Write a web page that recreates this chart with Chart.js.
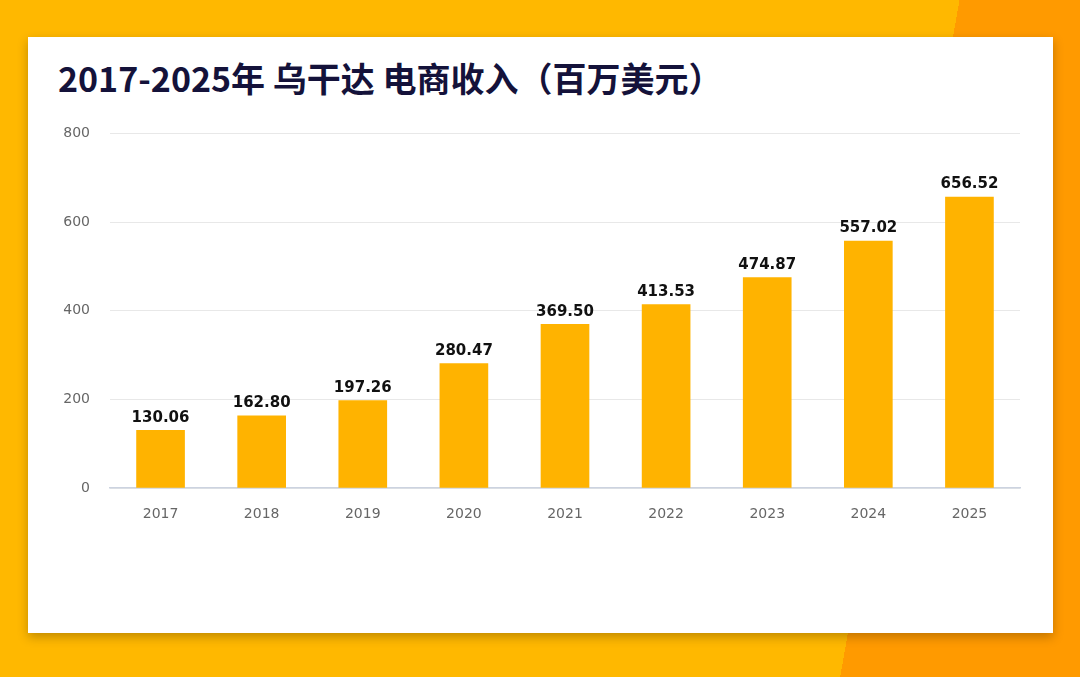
<!DOCTYPE html>
<html>
<head>
<meta charset="utf-8">
<script src="https://cdn.jsdelivr.net/npm/chart.js@4"></script>
<style>
  html, body { margin: 0; padding: 0; }
  body { width: 1080px; height: 677px; position: relative; overflow: hidden;
         background: linear-gradient(100deg, #FFB800 0%, #FFB800 80%, #FF9A00 80%, #FF9A00 100%); }
  #card { position: absolute; left: 28px; top: 37px; width: 1025px; height: 596px; background: #fff;
          box-shadow: 0 4px 10px rgba(0,0,0,0.25); }
  #title { position: absolute; left: 30px; top: 16px; font: bold 34px "Noto Sans CJK SC", "Noto Sans", sans-serif;
           color: #14123a; letter-spacing: 0px; }
  #wrap { position: absolute; left: 0; top: 68px; width: 1025px; height: 413px; }
</style>
</head>
<body>
<div id="card">
  <div id="title">2017-2025年 乌干达 电商收入（百万美元）</div>
  <div id="wrap"><canvas id="chart"></canvas></div>
</div>
<script>
// values
const years = ["2017", "2018", "2019", "2020", "2021", "2022", "2023", "2024", "2025"];
const revenue = [130.06, 162.80, 197.26, 280.47, 369.50, 413.53, 474.87, 557.02, 656.52];
const yTicks = [0, 200, 400, 600, 800];

// labels above bars
const valueLabels = {
  id: "valueLabels",
  afterDatasetsDraw(chart) {
    const ctx = chart.ctx;
    const meta = chart.getDatasetMeta(0);
    ctx.save();
    ctx.font = "bold 15px 'DejaVu Sans', sans-serif";
    ctx.fillStyle = "#111";
    ctx.textAlign = "center";
    ctx.textBaseline = "bottom";
    meta.data.forEach((bar, i) => {
      ctx.fillText(revenue[i].toFixed(2), bar.x, bar.y - 5);
    });
    ctx.restore();
  }
};

new Chart(document.getElementById("chart"), {
  type: "bar",
  data: {
    labels: years,
    datasets: [{ data: revenue, backgroundColor: "#FFB300", barThickness: 48 }]
  },
  options: {
    responsive: true,
    maintainAspectRatio: false,
    animation: false,
    layout: { padding: { top: 15, right: 33, left: 0, bottom: 0 } },
    plugins: { legend: { display: false }, tooltip: { enabled: false } },
    scales: {
      y: {
        min: 0, max: 800,
        afterBuildTicks: (s) => { s.ticks = yTicks.map(v => ({ value: v })); },
        afterFit: (s) => { s.width = 82; },
        ticks: { color: "#666", font: { size: 14, family: "DejaVu Sans" }, padding: 20 },
        grid: { color: "#e8e8e8", drawTicks: false },
        border: { display: false }
      },
      x: {
        afterFit: (s) => { s.height = 30; },
        ticks: { color: "#666", font: { size: 14, family: "DejaVu Sans" }, padding: 10 },
        grid: { display: false },
        border: { color: "#ccd3e0", width: 1.5 }
      }
    }
  },
  plugins: [valueLabels]
});
</script>
</body>
</html>
